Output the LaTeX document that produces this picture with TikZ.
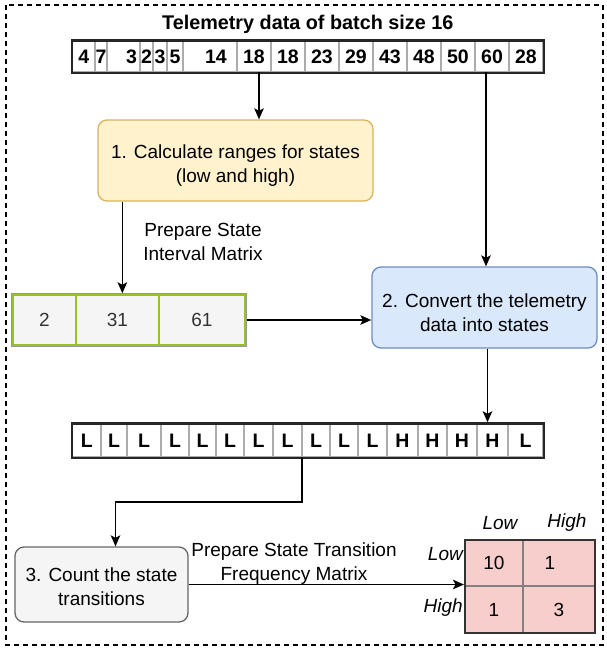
\documentclass[tikz,border=0pt]{standalone}
\usepackage{fontspec}
\setmainfont{Liberation Sans}
\usetikzlibrary{arrows.meta, positioning, fit}

\definecolor{yfill}{HTML}{FFF2CC}
\definecolor{ydraw}{HTML}{D6B656}
\definecolor{bfill}{HTML}{DAE8FC}
\definecolor{bdraw}{HTML}{6C8EBF}
\definecolor{gfill}{HTML}{F5F5F5}
\definecolor{gdraw}{HTML}{666666}
\definecolor{rfill}{HTML}{F8CECC}
\definecolor{ivgreen}{HTML}{97C21F}

\begin{document}
\begin{tikzpicture}[
    x=1pt, y=-1pt,
    font=\fontsize{19}{24}\selectfont,
    every node/.style={align=center},
    arrow/.style={-{Stealth[length=11pt, width=9.5pt, inset=2.5pt]}, line width=1.6pt},
]

% --- Style definitions ---
\tikzset{
    stepbox/.style = {rounded corners=9pt, line width=1.3pt, minimum height=81pt, inner sep=0pt},
    calcbox/.style = {stepbox, draw=ydraw, fill=yfill, minimum width=275pt},
    convbox/.style = {stepbox, draw=bdraw, fill=bfill, minimum width=225pt},
    countbox/.style = {stepbox, draw=gdraw, fill=gfill, minimum width=173pt, minimum height=75pt},
    cell/.style = {draw=gray!65, line width=1.1pt, inner sep=0pt, outer sep=0pt, fill=white,
        font=\fontsize{19.5}{22}\selectfont\bfseries},
    frame/.style = {draw=black!85, line width=2.2pt, inner sep=0.6pt},
    ivcell/.style = {draw=ivgreen, fill=gfill, line width=1.6pt, minimum height=50pt,
        inner sep=0pt, outer sep=0pt, text=black!80},
    fqcell/.style = {draw=gray, fill=rfill, line width=1.2pt, inner sep=0pt, outer sep=0pt},
    axis/.style = {font=\fontsize{19}{24}\selectfont\itshape, inner sep=0pt},
}

\useasboundingbox (0,0) rectangle (607,649);
\draw [dash pattern=on 5pt off 4pt, line width=1.3pt] (6,5) rectangle (603,645);

% --- Telemetry batch ---
\coordinate (t0) at (72.5,56.5);
\foreach \w/\v [count=\i] in {22.5pt/4, 12pt/7, 33pt/{\hspace*{16pt}3}, 13pt/2, 14pt/3, 16pt/5,
    54pt/{\hspace*{12pt}14}, 34pt/18, 34pt/18, 34pt/23, 34pt/29, 34pt/43, 34pt/48,
    34pt/50, 34pt/60, 34pt/28} {
    \pgfmathtruncatemacro\j{\i-1}
    \node (t\i) [cell, minimum width=\w, minimum height=31pt, right=0pt of t\j] {\v};
}
\node (tarr) [frame, fit=(t1)(t16)] {};
\node (title) [above=2pt of tarr, font=\fontsize{19.8}{24}\selectfont\bfseries] {Telemetry data of batch size 16};

% --- Steps ---
\node (calc) [calcbox] at (235.5,160.5) {\rule{0pt}{24pt}1. Calculate ranges for states\\(low and high)};
\node (conv) [convbox] at (484.5,307.5) {\rule{0pt}{24pt}2. Convert the telemetry\\data into states};
\node (count) [countbox] at (101.5,584.5) {\rule{0pt}{18pt}3. Count the state\\transitions};

% --- State interval matrix ---
\node (iv1) [ivcell, minimum width=63pt] at (44.5,320) {2};
\node (iv2) [ivcell, minimum width=83pt, right=0pt of iv1] {31};
\node (iv3) [ivcell, minimum width=86pt, right=0pt of iv2] {61};
\node (ivmat) [fit=(iv1)(iv3), draw=gray!80, line width=0.8pt, inner sep=1.3pt] {};
\node (ivlabel) at (203,242) {Prepare State\\Interval Matrix};

% --- States of the batch ---
\coordinate (s0) at (72.5,440.5);
\foreach \w/\v [count=\i] in {28.5pt/L, 26pt/L, 34pt/L, 28pt/L, 27pt/L, 28pt/L, 29pt/L, 29pt/L,
    28pt/L, 28pt/L, 29pt/L, 31pt/H, 29pt/H, 30pt/H, 31pt/H, 35pt/L} {
    \pgfmathtruncatemacro\j{\i-1}
    \node (s\i) [cell, minimum width=\w, minimum height=33pt, right=0pt of s\j] {\v};
}
\node (sarr) [frame, fit=(s1)(s16)] {};

% --- State transition frequency matrix ---
\node (f11) [fqcell, minimum width=58pt, minimum height=46pt] at (494,563) {10};
\node (f12) [fqcell, minimum width=72pt, minimum height=46pt, right=0pt of f11] {1\hspace*{18pt}};
\node (f21) [fqcell, minimum width=58pt, minimum height=47pt, below=0pt of f11] {1};
\node (f22) [fqcell, minimum width=72pt, minimum height=47pt, below=0pt of f12] {3};
\node (fqmat) [fit=(f11)(f22), draw=black!80, line width=2pt, inner sep=0pt] {};
\node (collow) [axis] at (500,523) {Low};
\node (colhigh) [axis] at (567,523) {High};
\node (rowlow) [axis, anchor=east] at (463,554) {Low};
\node (rowhigh) [axis, anchor=east] at (463,608) {High};
\node (fqlabel) at (294,564) {Prepare State Transition\\Frequency Matrix};

% --- Connectors ---
\draw [arrow] ([xshift=5pt]t8.south) -- ([xshift=5pt]t8.south |- calc.north);
\draw [arrow] ([xshift=-6pt]t15.south) -- ([xshift=-6pt]t15.south |- conv.north);
\draw [arrow] ([xshift=25pt]calc.south west) -- ([xshift=25pt]calc.south west |- ivmat.north);
\draw [arrow] (ivmat.east) -- (ivmat.east -| conv.west);
\draw [arrow] ([xshift=3pt]conv.south) -- ([xshift=3pt]conv.south |- sarr.north);
\draw [arrow] (s8.south east) -- ++(0,45) -| ([xshift=14pt]count.north);
\draw [arrow] (count.east) -- (count.east -| fqmat.west);

\end{tikzpicture}
\end{document}
